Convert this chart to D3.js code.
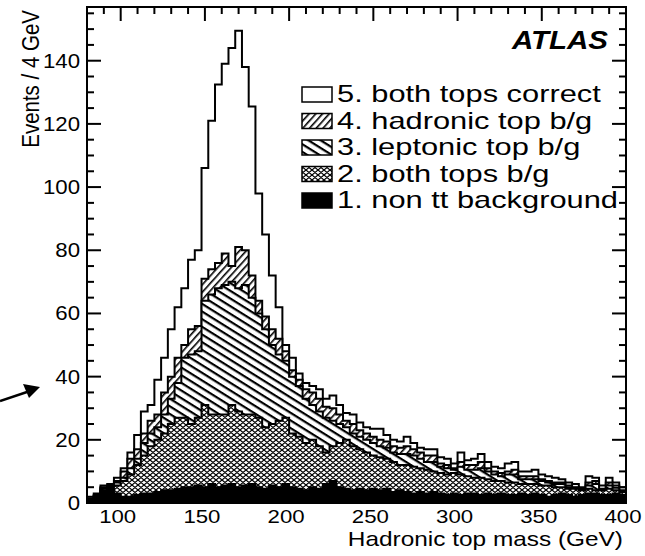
<!DOCTYPE html>
<html>
<head>
<meta charset="utf-8">
<script src="https://cdn.jsdelivr.net/npm/d3@7"></script>
<style>
  html, body { margin: 0; padding: 0; background: #fff; }
  text { font-family: "Liberation Sans", Arial, sans-serif; fill: #000; }
</style>
</head>
<body>
<div id="chart"></div>
<script>
// histogram bins: 4 GeV wide, lower edges 80 ... 396
var binStart = 80;
var binWidth = 4;
var binCount = 80;

// cumulative stack tops (1 = bottom layer ... 5 = total)
var top1 = [1, 2, 4, 4.5, 3, 2, 2, 2.5, 3, 3,
    3.5, 4, 4, 4.5, 5, 5, 5.5, 5, 6, 5,
    5.5, 6, 5, 5.5, 6, 5, 4.5, 5.5, 5, 6,
    5, 4.5, 4, 5, 4.5, 6, 7, 5, 4.5, 4,
    4.5, 4, 4.5, 4, 4.5, 3.5, 4, 3.5, 3, 3.5,
    3, 3.5, 3, 2.5, 3, 2.5, 3, 3, 2.5, 3,
    2.5, 3, 2.5, 2.5, 3, 2.5, 3, 2.5, 2, 2.5,
    3, 2.5, 2, 2.5, 3, 3, 2.5, 2.5, 3, 2.5];
var top2 = [1, 2, 4.5, 5, 5.5, 7, 9, 12, 15, 18,
    20, 22, 25, 27, 27, 25, 27, 31, 28, 28,
    28, 31, 29, 28, 28, 27, 24, 25, 26, 27,
    22, 21, 19, 20, 18, 16, 18, 19, 20, 18,
    17, 16, 15, 14.5, 14, 13, 12, 12, 11.5, 11,
    10.5, 10, 9.5, 9, 9.5, 9, 8.5, 8, 8, 7.5,
    7, 7, 6.5, 6.5, 6, 6, 6, 5.5, 5.5, 5,
    5, 4.5, 4.5, 4, 4.5, 4, 4, 4.5, 4, 3.5];
var top3 = [1.2, 2.2, 4.8, 5.2, 6.5, 8, 11, 14, 19, 22,
    24, 28, 33, 38, 46, 47, 48, 64, 66, 68,
    69, 70, 68, 69, 65, 60, 55, 50, 47, 45,
    40, 37, 33, 31, 29, 27, 26, 25, 24, 22,
    21, 20, 19, 18, 17.5, 16, 15.5, 15.5, 15, 14,
    13, 13, 11.5, 11, 10.5, 11.5, 10.5, 10.5, 11, 10,
    9, 8.5, 9, 9, 7.5, 7.5, 7.5, 7, 6.5, 6,
    6, 5, 4.8, 4.2, 5.5, 6, 4.2, 5.5, 4.8, 3.8];
var top4 = [1.5, 2.5, 5, 5.5, 7, 10, 14, 17, 22, 26,
    28, 35, 40, 46, 50, 55, 56, 71, 74, 76,
    79, 75, 81, 80, 72, 64, 59, 55, 52, 48,
    42, 39, 36, 35, 33, 30.5, 30, 28, 26, 25,
    23, 22, 21, 20, 19.5, 18, 17.5, 18, 17, 16,
    15, 15, 12.5, 12, 11, 13, 12, 12, 13, 11,
    10, 9.5, 10, 10.5, 8.5, 8.5, 8.5, 7.5, 7, 6.5,
    6.5, 5.5, 5, 4.5, 6.5, 7, 4.5, 6.5, 5.5, 4];
var top5 = [2, 3, 5.5, 6, 8, 11, 16, 21.5, 29, 31,
    39, 46, 55, 62, 68, 77, 80, 106, 121, 132.5,
    139, 144, 149.5, 138, 125.5, 98, 85, 72, 62, 50,
    46, 41, 38, 37, 36, 33, 34, 31, 28.5, 28,
    25.5, 24, 23.5, 23.5, 21.5, 20, 19.5, 21, 19, 17.5,
    17, 17, 14.5, 14, 12.5, 16, 13.5, 14, 15.5, 13,
    11.5, 11, 12.5, 13, 10, 10, 10.5, 9, 8.5, 8,
    7.5, 6.5, 6, 5, 8.5, 8, 5.5, 8, 6.5, 5];

var legendLabels = ["5. both tops correct", "4. hadronic top b/g",
    "3. leptonic top b/g", "2. both tops b/g", "1. non tt background"];
var xTickLabels = [100, 150, 200, 250, 300, 350, 400];
var yTickLabels = [0, 20, 40, 60, 80, 100, 120, 140];

const WIDTH = 645;
const HEIGHT = 556;
var frame = {left: 87, right: 626, top: 7, bottom: 503};

var x = d3.scaleLinear().domain([80, 400]).range([frame.left, frame.right]);
var y = d3.scaleLinear().domain([0, 157]).range([frame.bottom, frame.top]);

var svg = d3.select("#chart").append("svg")
    .attr("width", WIDTH)
    .attr("height", HEIGHT);
var defs = svg.append("defs");

// hatch fills, rotated stripes
function stripes(id, angle, gap, lw) {
    var p = defs.append("pattern")
        .attr("id", id)
        .attr("patternUnits", "userSpaceOnUse")
        .attr("width", 12).attr("height", gap)
        .attr("patternTransform", "rotate(" + angle + ")");
    p.append("rect").attr("width", 12).attr("height", gap).attr("fill", "#fff");
    p.append("rect").attr("width", 12).attr("height", lw).attr("fill", "#000");
}
stripes("hadr", -48, 5, 1.6);
stripes("lept", 32, 6.5, 2.2);

var cross = defs.append("pattern")
    .attr("id", "both")
    .attr("patternUnits", "userSpaceOnUse")
    .attr("width", 6).attr("height", 5);
cross.append("rect").attr("width", 6).attr("height", 5).attr("fill", "#fff");
cross.append("path")
    .attr("d", "M0,0L6,5M0,5L6,0M-1,1L1,-1M5,6L7,4M-1,4L1,6M5,-1L7,1")
    .attr("stroke", "#000").attr("stroke-width", 1.2);

var fills = ["#000", "url(#both)", "url(#lept)", "url(#hadr)", "#fff"];
var layers = [top1, top2, top3, top4, top5];

// bottom ticks sit under the histograms (hidden by the black fill)
var axes = svg.append("g").attr("stroke", "#000").attr("stroke-width", 2);
d3.range(90, 400, 10).forEach(function(v) {
    var len = v % 50 == 0 ? 14 : 7;
    axes.append("line").attr("x1", x(v)).attr("x2", x(v))
        .attr("y1", frame.bottom).attr("y2", frame.bottom - len);
});

// draw stack from total down so lower layers cover higher ones
var line = d3.line().x(function(d) { return x(d[0]); }).y(function(d) { return y(d[1]); });
for (var k = layers.length - 1; k >= 0; k--) {
    var pts = [[binStart, 0]];
    layers[k].forEach(function(v, i) {
        var lo = binStart + i * binWidth;
        pts.push([lo, v]);
        pts.push([lo + binWidth, v]);
    });
    pts.push([binStart + binCount * binWidth, 0]);
    svg.append("path")
        .datum(pts)
        .attr("d", line)
        .attr("fill", fills[k])
        .attr("stroke", "#000")
        .attr("stroke-width", 2)
        .attr("stroke-linejoin", "miter");
}

// frame + inward ticks on top, left and right
var ax = svg.append("g").attr("stroke", "#000").attr("stroke-width", 2);
ax.append("rect")
    .attr("x", frame.left).attr("y", frame.top)
    .attr("width", frame.right - frame.left)
    .attr("height", frame.bottom - frame.top)
    .attr("fill", "none");
d3.range(90, 400, 10).forEach(function(v) {
    var len = v % 50 == 0 ? 14 : 7;
    ax.append("line").attr("x1", x(v)).attr("x2", x(v))
        .attr("y1", frame.top).attr("y2", frame.top + len);
});
d3.range(5, 157, 5).forEach(function(v) {
    var len = v % 20 == 0 ? 14 : 7;
    ax.append("line").attr("x1", frame.left).attr("x2", frame.left + len)
        .attr("y1", y(v)).attr("y2", y(v));
    ax.append("line").attr("x1", frame.right).attr("x2", frame.right - len)
        .attr("y1", y(v)).attr("y2", y(v));
});

// text helper, the figure's lettering is stretched sideways
function label(px, py, str, size, sx, anchor) {
    return svg.append("text")
        .attr("transform", "translate(" + px + "," + py + ") scale(" + sx + ",1)")
        .attr("font-size", size)
        .attr("text-anchor", anchor)
        .text(str);
}

xTickLabels.forEach(function(v) {
    label(x(v) - 3, 523, v, 18.5, 1.2, "middle");
});
yTickLabels.forEach(function(v) {
    label(80, y(v) + 7, v, 19.5, 1.14, "end");
});

label(623, 546, "Hadronic top mass (GeV)", 20, 1.22, "end");
svg.append("text")
    .attr("transform", "translate(39,10) scale(1.2,1) rotate(-90)")
    .attr("font-size", 20.5)
    .attr("text-anchor", "end")
    .text("Events / 4 GeV");

label(608, 49, "ATLAS", 25, 1.18, "end")
    .attr("font-weight", "bold")
    .attr("font-style", "italic");

// legend
var legendFills = ["#fff", "url(#hadr)", "url(#lept)", "url(#both)", "#000"];
legendLabels.forEach(function(s, i) {
    var base = 102 + i * 26.5;
    svg.append("rect")
        .attr("x", 302).attr("y", base - 15)
        .attr("width", 30).attr("height", 15)
        .attr("fill", legendFills[i])
        .attr("stroke", "#000").attr("stroke-width", 1.5);
    label(337, base, s, 23, 1.34, "start");
});

// arrow on the left
svg.append("line")
    .attr("x1", 0).attr("y1", 401).attr("x2", 30).attr("y2", 391)
    .attr("stroke", "#000").attr("stroke-width", 2.5);
svg.append("path")
    .attr("d", "M40,387L23,384L29,398Z")
    .attr("fill", "#000");
</script>
</body>
</html>
